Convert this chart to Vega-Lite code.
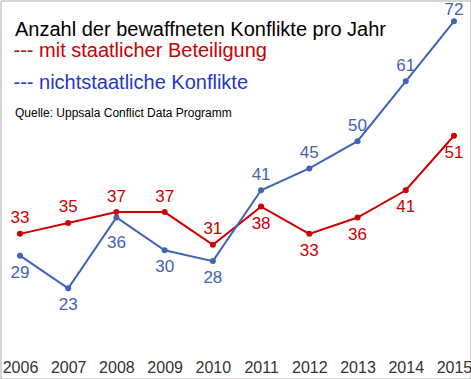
{
  "$schema": "https://vega.github.io/schema/vega-lite/v6.json",
  "width": 470,
  "height": 378,
  "autosize": {"type": "none"},
  "padding": {"left": 0.5, "top": 0.5, "right": 0.5, "bottom": 0.5},
  "background": "white",
  "config": {
    "view": {"stroke": "#aaaaaa", "strokeWidth": 1},
    "font": "Liberation Sans"
  },
  "title": {
    "text": "Anzahl der bewaffneten Konflikte pro Jahr",
    "subtitle": "Quelle: Uppsala Conflict Data Programm",
    "anchor": "start",
    "frame": "group",
    "orient": "top",
    "offset": -118,
    "dx": 14.5,
    "font": "Liberation Sans",
    "fontSize": 20,
    "fontWeight": "normal",
    "color": "#000000",
    "subtitleFont": "Liberation Sans",
    "subtitleFontSize": 12,
    "subtitleColor": "#000000",
    "subtitlePadding": 68
  },
  "data": {
    "values": [
      {"year": 2006, "series": "mit staatlicher Beteiligung", "value": 33, "pos": "above"},
      {"year": 2007, "series": "mit staatlicher Beteiligung", "value": 35, "pos": "above"},
      {"year": 2008, "series": "mit staatlicher Beteiligung", "value": 37, "pos": "above"},
      {"year": 2009, "series": "mit staatlicher Beteiligung", "value": 37, "pos": "above"},
      {"year": 2010, "series": "mit staatlicher Beteiligung", "value": 31, "pos": "above"},
      {"year": 2011, "series": "mit staatlicher Beteiligung", "value": 38, "pos": "below"},
      {"year": 2012, "series": "mit staatlicher Beteiligung", "value": 33, "pos": "below"},
      {"year": 2013, "series": "mit staatlicher Beteiligung", "value": 36, "pos": "below"},
      {"year": 2014, "series": "mit staatlicher Beteiligung", "value": 41, "pos": "below"},
      {"year": 2015, "series": "mit staatlicher Beteiligung", "value": 51, "pos": "below"},
      {"year": 2006, "series": "nichtstaatliche Konflikte", "value": 29, "pos": "below"},
      {"year": 2007, "series": "nichtstaatliche Konflikte", "value": 23, "pos": "below"},
      {"year": 2008, "series": "nichtstaatliche Konflikte", "value": 36, "pos": "below-far"},
      {"year": 2009, "series": "nichtstaatliche Konflikte", "value": 30, "pos": "below"},
      {"year": 2010, "series": "nichtstaatliche Konflikte", "value": 28, "pos": "below"},
      {"year": 2011, "series": "nichtstaatliche Konflikte", "value": 41, "pos": "above"},
      {"year": 2012, "series": "nichtstaatliche Konflikte", "value": 45, "pos": "above"},
      {"year": 2013, "series": "nichtstaatliche Konflikte", "value": 50, "pos": "above"},
      {"year": 2014, "series": "nichtstaatliche Konflikte", "value": 61, "pos": "above"},
      {"year": 2015, "series": "nichtstaatliche Konflikte", "value": 72, "pos": "above-tight"}
    ]
  },
  "encoding": {
    "x": {
      "field": "year",
      "type": "quantitative",
      "scale": {"domain": [2005.596, 2015.343], "nice": false, "zero": false},
      "axis": {
        "values": [2006, 2007, 2008, 2009, 2010, 2011, 2012, 2013, 2014, 2015],
        "format": "d",
        "title": null,
        "grid": false,
        "domain": false,
        "ticks": false,
        "tickSize": 0,
        "labelPadding": 0,
        "labelBaseline": "middle",
        "offset": -11,
        "labelFlush": false,
        "labelOverlap": false,
        "labelFont": "Liberation Sans",
        "labelFontSize": 16,
        "labelColor": "#333333"
      }
    },
    "y": {
      "field": "value",
      "type": "quantitative",
      "scale": {"domain": [6.46, 75.82], "nice": false, "zero": false},
      "axis": null
    },
    "color": {
      "field": "series",
      "type": "nominal",
      "scale": {
        "domain": ["mit staatlicher Beteiligung", "nichtstaatliche Konflikte"],
        "range": ["#cc0000", "#3f63b5"]
      }
    }
  },
  "layer": [
    {
      "mark": {"type": "line", "strokeWidth": 2},
      "encoding": {
        "color": {
          "field": "series",
          "type": "nominal",
          "legend": {
            "orient": "none",
            "legendX": -7,
            "legendY": 40,
            "title": null,
            "padding": 0,
            "symbolSize": 0,
            "symbolStrokeWidth": 0,
            "symbolOpacity": 0,
            "labelOffset": 0,
            "labelFont": "Liberation Sans",
            "labelFontSize": 20,
            "labelLimit": 400,
            "rowPadding": 12,
            "labelExpr": "'--- ' + datum.label",
            "encode": {
              "labels": {
                "update": {
                  "fill": {"signal": "datum.value === 'mit staatlicher Beteiligung' ? '#cc0000' : '#2238cc'"}
                }
              }
            }
          }
        }
      }
    },
    {
      "mark": {"type": "point", "filled": true, "size": 36, "opacity": 1}
    },
    {
      "transform": [{"filter": "datum.pos === 'above'"}],
      "mark": {"type": "text", "dy": -15.5, "fontSize": 17, "font": "Liberation Sans"},
      "encoding": {"text": {"field": "value", "type": "quantitative"}}
    },
    {
      "transform": [{"filter": "datum.pos === 'above-tight'"}],
      "mark": {"type": "text", "dy": -11.5, "fontSize": 17, "font": "Liberation Sans"},
      "encoding": {"text": {"field": "value", "type": "quantitative"}}
    },
    {
      "transform": [{"filter": "datum.pos === 'below'"}],
      "mark": {"type": "text", "dy": 17, "fontSize": 17, "font": "Liberation Sans"},
      "encoding": {"text": {"field": "value", "type": "quantitative"}}
    },
    {
      "transform": [{"filter": "datum.pos === 'below-far'"}],
      "mark": {"type": "text", "dy": 25, "fontSize": 17, "font": "Liberation Sans"},
      "encoding": {"text": {"field": "value", "type": "quantitative"}}
    }
  ]
}
